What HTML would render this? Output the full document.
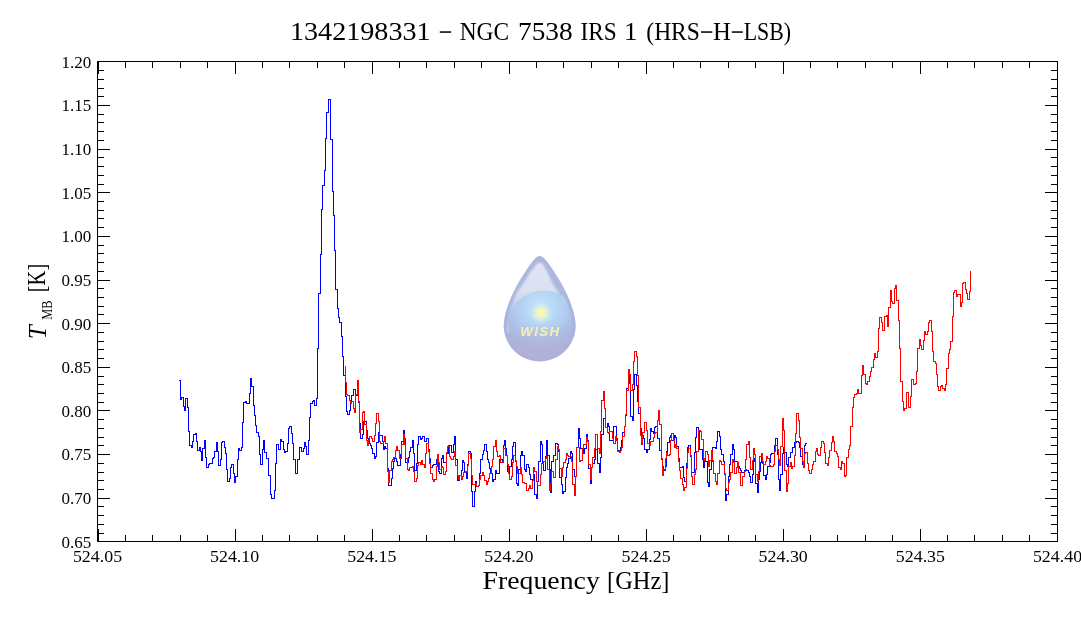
<!DOCTYPE html>
<html><head><meta charset="utf-8"><title>1342198331 - NGC 7538 IRS 1 (HRS-H-LSB)</title>
<style>
html,body{margin:0;padding:0;background:#fff;}
body{width:1081px;height:618px;overflow:hidden;font-family:"Liberation Serif",serif;}
svg{display:block;will-change:transform}
text{font-family:"Liberation Serif",serif;fill:#000}
.tk text{font-size:16.3px}
</style></head><body>
<svg width="1081" height="618" viewBox="0 0 1081 618">
<defs>
<linearGradient id="dg" x1="0" y1="256" x2="0" y2="362" gradientUnits="userSpaceOnUse">
<stop offset="0" stop-color="#adb5d9"/><stop offset="0.35" stop-color="#abb9e0"/><stop offset="0.7" stop-color="#aab4de"/><stop offset="1" stop-color="#b0aed6"/>
</linearGradient>
<radialGradient id="glow" cx="541" cy="308" r="47" gradientUnits="userSpaceOnUse">
<stop offset="0" stop-color="#c4e5fb" stop-opacity="1"/><stop offset="0.3" stop-color="#b8d9f7" stop-opacity="1"/><stop offset="0.55" stop-color="#b1cef1" stop-opacity="0.88"/><stop offset="0.8" stop-color="#adc1e9" stop-opacity="0.5"/><stop offset="1" stop-color="#a9b8e0" stop-opacity="0"/>
</radialGradient>
<linearGradient id="bot" x1="0" y1="322" x2="0" y2="362" gradientUnits="userSpaceOnUse">
<stop offset="0" stop-color="#b2b1d8" stop-opacity="0"/><stop offset="0.5" stop-color="#b2b1d8" stop-opacity="0.5"/><stop offset="1" stop-color="#b3b0d6" stop-opacity="0.9"/>
</linearGradient>
<linearGradient id="hl" x1="0" y1="262" x2="0" y2="310" gradientUnits="userSpaceOnUse">
<stop offset="0" stop-color="#e2e6f4" stop-opacity="1"/><stop offset="0.6" stop-color="#dce3f2" stop-opacity="0.95"/><stop offset="1" stop-color="#cfdaf0" stop-opacity="0.6"/>
</linearGradient>
<radialGradient id="star" cx="541" cy="313" r="12" gradientUnits="userSpaceOnUse">
<stop offset="0" stop-color="#ffffd8" stop-opacity="0.95"/><stop offset="0.5" stop-color="#eef6d8" stop-opacity="0.55"/><stop offset="1" stop-color="#d0ecf8" stop-opacity="0"/>
</radialGradient>
<filter id="bl" x="-20%" y="-20%" width="140%" height="140%"><feGaussianBlur stdDeviation="0.55"/></filter>
<filter id="bl2" x="-20%" y="-20%" width="140%" height="140%"><feGaussianBlur stdDeviation="0.8"/></filter>
<filter id="bl3" x="-20%" y="-20%" width="140%" height="140%"><feGaussianBlur stdDeviation="0.35"/></filter>
<clipPath id="dropclip"><path d="M539.70 255.90 L540.39 255.96 L541.08 256.15 L541.78 256.46 L542.50 256.90 L543.25 257.46 L544.02 258.15 L544.83 258.96 L545.68 259.90 L546.11 260.40 L546.66 261.07 L547.19 261.74 L547.71 262.42 L548.22 263.09 L548.71 263.76 L549.20 264.43 L549.68 265.11 L550.15 265.78 L550.62 266.45 L551.08 267.12 L551.54 267.80 L551.99 268.47 L552.44 269.14 L552.89 269.81 L553.34 270.49 L553.78 271.16 L554.22 271.83 L554.66 272.50 L555.10 273.18 L555.53 273.85 L555.96 274.52 L556.39 275.19 L556.82 275.87 L557.25 276.54 L557.68 277.21 L558.11 277.88 L558.53 278.56 L558.96 279.23 L559.38 279.90 L559.97 280.90 L560.62 282.04 L561.25 283.19 L561.87 284.33 L562.47 285.47 L563.08 286.62 L563.69 287.76 L564.29 288.91 L564.88 290.05 L565.46 291.19 L566.04 292.34 L566.59 293.48 L567.13 294.62 L567.66 295.77 L568.17 296.91 L568.66 298.05 L569.15 299.20 L569.61 300.34 L570.07 301.48 L570.50 302.63 L570.92 303.77 L571.32 304.92 L571.71 306.06 L572.09 307.20 L572.45 308.35 L572.80 309.49 L573.12 310.63 L573.45 311.78 L573.77 312.92 L574.08 314.06 L574.37 315.21 L574.62 316.35 L574.84 317.49 L575.01 318.64 L575.17 319.78 L575.32 320.93 L575.45 322.07 L575.56 323.21 L575.64 324.36 L575.70 325.50 L575.65 327.41 L575.50 329.32 L575.24 331.21 L574.89 333.09 L574.43 334.95 L573.88 336.78 L573.23 338.57 L572.48 340.33 L571.64 342.05 L570.72 343.73 L569.70 345.35 L568.60 346.91 L567.41 348.41 L566.15 349.85 L564.81 351.22 L563.41 352.52 L561.93 353.74 L560.39 354.88 L558.80 355.93 L557.14 356.90 L555.44 357.79 L553.70 358.58 L551.91 359.27 L550.09 359.87 L548.24 360.37 L546.37 360.78 L544.48 361.08 L542.57 361.29 L540.66 361.39 L538.74 361.39 L536.83 361.29 L534.92 361.08 L533.03 360.78 L531.16 360.37 L529.31 359.87 L527.49 359.27 L525.70 358.58 L523.96 357.79 L522.26 356.90 L520.60 355.93 L519.01 354.88 L517.47 353.74 L515.99 352.52 L514.59 351.22 L513.25 349.85 L511.99 348.41 L510.80 346.91 L509.70 345.35 L508.68 343.73 L507.76 342.05 L506.92 340.33 L506.17 338.57 L505.52 336.78 L504.97 334.95 L504.51 333.09 L504.16 331.21 L503.90 329.32 L503.75 327.41 L503.70 325.50 L503.76 324.36 L503.84 323.21 L503.95 322.07 L504.08 320.93 L504.23 319.78 L504.39 318.64 L504.56 317.49 L504.78 316.35 L505.03 315.21 L505.32 314.06 L505.63 312.92 L505.95 311.78 L506.28 310.63 L506.60 309.49 L506.95 308.35 L507.31 307.20 L507.69 306.06 L508.08 304.92 L508.48 303.77 L508.90 302.63 L509.33 301.48 L509.79 300.34 L510.25 299.20 L510.74 298.05 L511.23 296.91 L511.74 295.77 L512.27 294.62 L512.81 293.48 L513.36 292.34 L513.94 291.19 L514.52 290.05 L515.11 288.91 L515.71 287.76 L516.32 286.62 L516.93 285.47 L517.53 284.33 L518.15 283.19 L518.78 282.04 L519.43 280.90 L520.02 279.90 L520.44 279.23 L520.87 278.56 L521.29 277.88 L521.72 277.21 L522.15 276.54 L522.58 275.87 L523.01 275.19 L523.44 274.52 L523.87 273.85 L524.30 273.18 L524.74 272.50 L525.18 271.83 L525.62 271.16 L526.06 270.49 L526.51 269.81 L526.96 269.14 L527.41 268.47 L527.86 267.80 L528.32 267.12 L528.78 266.45 L529.25 265.78 L529.72 265.11 L530.20 264.43 L530.69 263.76 L531.18 263.09 L531.69 262.42 L532.21 261.74 L532.74 261.07 L533.29 260.40 L533.72 259.90 L534.57 258.96 L535.38 258.15 L536.15 257.46 L536.90 256.90 L537.62 256.46 L538.32 256.15 L539.01 255.96 L539.70 255.90Z"/></clipPath>
<clipPath id="bodyclip"><path transform="translate(540.6 326) scale(0.875 0.93) translate(-539.7 -326)" d="M539.70 255.90 L540.39 255.96 L541.08 256.15 L541.78 256.46 L542.50 256.90 L543.25 257.46 L544.02 258.15 L544.83 258.96 L545.68 259.90 L546.11 260.40 L546.66 261.07 L547.19 261.74 L547.71 262.42 L548.22 263.09 L548.71 263.76 L549.20 264.43 L549.68 265.11 L550.15 265.78 L550.62 266.45 L551.08 267.12 L551.54 267.80 L551.99 268.47 L552.44 269.14 L552.89 269.81 L553.34 270.49 L553.78 271.16 L554.22 271.83 L554.66 272.50 L555.10 273.18 L555.53 273.85 L555.96 274.52 L556.39 275.19 L556.82 275.87 L557.25 276.54 L557.68 277.21 L558.11 277.88 L558.53 278.56 L558.96 279.23 L559.38 279.90 L559.97 280.90 L560.62 282.04 L561.25 283.19 L561.87 284.33 L562.47 285.47 L563.08 286.62 L563.69 287.76 L564.29 288.91 L564.88 290.05 L565.46 291.19 L566.04 292.34 L566.59 293.48 L567.13 294.62 L567.66 295.77 L568.17 296.91 L568.66 298.05 L569.15 299.20 L569.61 300.34 L570.07 301.48 L570.50 302.63 L570.92 303.77 L571.32 304.92 L571.71 306.06 L572.09 307.20 L572.45 308.35 L572.80 309.49 L573.12 310.63 L573.45 311.78 L573.77 312.92 L574.08 314.06 L574.37 315.21 L574.62 316.35 L574.84 317.49 L575.01 318.64 L575.17 319.78 L575.32 320.93 L575.45 322.07 L575.56 323.21 L575.64 324.36 L575.70 325.50 L575.65 327.41 L575.50 329.32 L575.24 331.21 L574.89 333.09 L574.43 334.95 L573.88 336.78 L573.23 338.57 L572.48 340.33 L571.64 342.05 L570.72 343.73 L569.70 345.35 L568.60 346.91 L567.41 348.41 L566.15 349.85 L564.81 351.22 L563.41 352.52 L561.93 353.74 L560.39 354.88 L558.80 355.93 L557.14 356.90 L555.44 357.79 L553.70 358.58 L551.91 359.27 L550.09 359.87 L548.24 360.37 L546.37 360.78 L544.48 361.08 L542.57 361.29 L540.66 361.39 L538.74 361.39 L536.83 361.29 L534.92 361.08 L533.03 360.78 L531.16 360.37 L529.31 359.87 L527.49 359.27 L525.70 358.58 L523.96 357.79 L522.26 356.90 L520.60 355.93 L519.01 354.88 L517.47 353.74 L515.99 352.52 L514.59 351.22 L513.25 349.85 L511.99 348.41 L510.80 346.91 L509.70 345.35 L508.68 343.73 L507.76 342.05 L506.92 340.33 L506.17 338.57 L505.52 336.78 L504.97 334.95 L504.51 333.09 L504.16 331.21 L503.90 329.32 L503.75 327.41 L503.70 325.50 L503.76 324.36 L503.84 323.21 L503.95 322.07 L504.08 320.93 L504.23 319.78 L504.39 318.64 L504.56 317.49 L504.78 316.35 L505.03 315.21 L505.32 314.06 L505.63 312.92 L505.95 311.78 L506.28 310.63 L506.60 309.49 L506.95 308.35 L507.31 307.20 L507.69 306.06 L508.08 304.92 L508.48 303.77 L508.90 302.63 L509.33 301.48 L509.79 300.34 L510.25 299.20 L510.74 298.05 L511.23 296.91 L511.74 295.77 L512.27 294.62 L512.81 293.48 L513.36 292.34 L513.94 291.19 L514.52 290.05 L515.11 288.91 L515.71 287.76 L516.32 286.62 L516.93 285.47 L517.53 284.33 L518.15 283.19 L518.78 282.04 L519.43 280.90 L520.02 279.90 L520.44 279.23 L520.87 278.56 L521.29 277.88 L521.72 277.21 L522.15 276.54 L522.58 275.87 L523.01 275.19 L523.44 274.52 L523.87 273.85 L524.30 273.18 L524.74 272.50 L525.18 271.83 L525.62 271.16 L526.06 270.49 L526.51 269.81 L526.96 269.14 L527.41 268.47 L527.86 267.80 L528.32 267.12 L528.78 266.45 L529.25 265.78 L529.72 265.11 L530.20 264.43 L530.69 263.76 L531.18 263.09 L531.69 262.42 L532.21 261.74 L532.74 261.07 L533.29 260.40 L533.72 259.90 L534.57 258.96 L535.38 258.15 L536.15 257.46 L536.90 256.90 L537.62 256.46 L538.32 256.15 L539.01 255.96 L539.70 255.90Z"/></clipPath>
</defs>
<!-- title -->
<g font-size="25.5"><text x="290.0" y="40.3" textLength="140.6" lengthAdjust="spacingAndGlyphs">1342198331</text><text x="459.7" y="40.3" textLength="49.4" lengthAdjust="spacingAndGlyphs">NGC</text><text x="518.0" y="40.3" textLength="54.6" lengthAdjust="spacingAndGlyphs">7538</text><text x="580.6" y="40.3" textLength="36.2" lengthAdjust="spacingAndGlyphs">IRS</text><text x="624.0" y="40.3" textLength="13.4" lengthAdjust="spacingAndGlyphs">1</text><text x="646.3" y="40.3" textLength="53.6" lengthAdjust="spacingAndGlyphs">(HRS</text><text x="713.0" y="40.3" textLength="17.9" lengthAdjust="spacingAndGlyphs">H</text><text x="743.7" y="40.3" textLength="47.4" lengthAdjust="spacingAndGlyphs">LSB)</text></g><rect x="439.8" y="31.3" width="11.3" height="1.5" fill="#000"/><rect x="701.0" y="31.3" width="11.3" height="1.5" fill="#000"/><rect x="731.8" y="31.3" width="11.0" height="1.5" fill="#000"/>
<!-- logo -->
<g id="logo">
<path d="M539.70 255.90 L540.39 255.96 L541.08 256.15 L541.78 256.46 L542.50 256.90 L543.25 257.46 L544.02 258.15 L544.83 258.96 L545.68 259.90 L546.11 260.40 L546.66 261.07 L547.19 261.74 L547.71 262.42 L548.22 263.09 L548.71 263.76 L549.20 264.43 L549.68 265.11 L550.15 265.78 L550.62 266.45 L551.08 267.12 L551.54 267.80 L551.99 268.47 L552.44 269.14 L552.89 269.81 L553.34 270.49 L553.78 271.16 L554.22 271.83 L554.66 272.50 L555.10 273.18 L555.53 273.85 L555.96 274.52 L556.39 275.19 L556.82 275.87 L557.25 276.54 L557.68 277.21 L558.11 277.88 L558.53 278.56 L558.96 279.23 L559.38 279.90 L559.97 280.90 L560.62 282.04 L561.25 283.19 L561.87 284.33 L562.47 285.47 L563.08 286.62 L563.69 287.76 L564.29 288.91 L564.88 290.05 L565.46 291.19 L566.04 292.34 L566.59 293.48 L567.13 294.62 L567.66 295.77 L568.17 296.91 L568.66 298.05 L569.15 299.20 L569.61 300.34 L570.07 301.48 L570.50 302.63 L570.92 303.77 L571.32 304.92 L571.71 306.06 L572.09 307.20 L572.45 308.35 L572.80 309.49 L573.12 310.63 L573.45 311.78 L573.77 312.92 L574.08 314.06 L574.37 315.21 L574.62 316.35 L574.84 317.49 L575.01 318.64 L575.17 319.78 L575.32 320.93 L575.45 322.07 L575.56 323.21 L575.64 324.36 L575.70 325.50 L575.65 327.41 L575.50 329.32 L575.24 331.21 L574.89 333.09 L574.43 334.95 L573.88 336.78 L573.23 338.57 L572.48 340.33 L571.64 342.05 L570.72 343.73 L569.70 345.35 L568.60 346.91 L567.41 348.41 L566.15 349.85 L564.81 351.22 L563.41 352.52 L561.93 353.74 L560.39 354.88 L558.80 355.93 L557.14 356.90 L555.44 357.79 L553.70 358.58 L551.91 359.27 L550.09 359.87 L548.24 360.37 L546.37 360.78 L544.48 361.08 L542.57 361.29 L540.66 361.39 L538.74 361.39 L536.83 361.29 L534.92 361.08 L533.03 360.78 L531.16 360.37 L529.31 359.87 L527.49 359.27 L525.70 358.58 L523.96 357.79 L522.26 356.90 L520.60 355.93 L519.01 354.88 L517.47 353.74 L515.99 352.52 L514.59 351.22 L513.25 349.85 L511.99 348.41 L510.80 346.91 L509.70 345.35 L508.68 343.73 L507.76 342.05 L506.92 340.33 L506.17 338.57 L505.52 336.78 L504.97 334.95 L504.51 333.09 L504.16 331.21 L503.90 329.32 L503.75 327.41 L503.70 325.50 L503.76 324.36 L503.84 323.21 L503.95 322.07 L504.08 320.93 L504.23 319.78 L504.39 318.64 L504.56 317.49 L504.78 316.35 L505.03 315.21 L505.32 314.06 L505.63 312.92 L505.95 311.78 L506.28 310.63 L506.60 309.49 L506.95 308.35 L507.31 307.20 L507.69 306.06 L508.08 304.92 L508.48 303.77 L508.90 302.63 L509.33 301.48 L509.79 300.34 L510.25 299.20 L510.74 298.05 L511.23 296.91 L511.74 295.77 L512.27 294.62 L512.81 293.48 L513.36 292.34 L513.94 291.19 L514.52 290.05 L515.11 288.91 L515.71 287.76 L516.32 286.62 L516.93 285.47 L517.53 284.33 L518.15 283.19 L518.78 282.04 L519.43 280.90 L520.02 279.90 L520.44 279.23 L520.87 278.56 L521.29 277.88 L521.72 277.21 L522.15 276.54 L522.58 275.87 L523.01 275.19 L523.44 274.52 L523.87 273.85 L524.30 273.18 L524.74 272.50 L525.18 271.83 L525.62 271.16 L526.06 270.49 L526.51 269.81 L526.96 269.14 L527.41 268.47 L527.86 267.80 L528.32 267.12 L528.78 266.45 L529.25 265.78 L529.72 265.11 L530.20 264.43 L530.69 263.76 L531.18 263.09 L531.69 262.42 L532.21 261.74 L532.74 261.07 L533.29 260.40 L533.72 259.90 L534.57 258.96 L535.38 258.15 L536.15 257.46 L536.90 256.90 L537.62 256.46 L538.32 256.15 L539.01 255.96 L539.70 255.90Z" fill="url(#dg)" filter="url(#bl)"/>
<g clip-path="url(#dropclip)">
<path d="M539.60 262.60 L540.89 263.02 L541.69 263.43 L542.24 263.85 L542.66 264.26 L543.01 264.68 L543.31 265.09 L543.58 265.51 L543.83 265.92 L544.07 266.34 L544.31 266.75 L544.56 267.17 L544.81 267.58 L545.05 268.00 L545.63 269.00 L546.52 270.62 L547.37 272.23 L548.18 273.85 L548.94 275.46 L549.64 277.08 L550.34 278.69 L551.10 280.31 L551.97 281.92 L552.90 283.54 L553.88 285.15 L554.88 286.77 L555.88 288.38 L556.87 290.00 L557.81 291.62 L558.70 293.23 L559.72 294.85 L560.75 296.46 L561.58 298.08 L561.99 299.69 L562.00 301.31 L562.00 302.92 L562.00 304.54 L562.00 306.15 L562.00 307.77 L562.00 309.38 L562.00 311.00 L562.00 312.62 L562.00 314.23 L562.00 315.85 L562.00 317.46 L562.00 319.08 L562.00 320.69 L562.00 322.31 L562.00 323.92 L562.00 325.54 L562.00 327.15 L562.00 328.77 L562.00 330.38 L562.00 332.00 L507.00 332.00 L507.09 330.38 L507.22 328.77 L507.37 327.15 L507.55 325.54 L507.75 323.92 L507.96 322.31 L508.19 320.69 L508.47 319.08 L508.79 317.46 L509.13 315.85 L509.51 314.23 L509.91 312.62 L510.32 311.00 L510.75 309.38 L511.19 307.77 L511.65 306.15 L512.13 304.54 L512.64 302.92 L513.18 301.31 L513.76 299.69 L514.38 298.08 L515.05 296.46 L515.76 294.85 L516.60 293.23 L517.57 291.62 L518.64 290.00 L519.77 288.38 L520.95 286.77 L522.14 285.15 L523.31 283.54 L524.43 281.92 L525.47 280.31 L526.41 278.69 L527.29 277.08 L528.19 275.46 L529.20 273.85 L530.34 272.23 L531.57 270.62 L532.85 269.00 L533.64 268.00 L533.97 267.58 L534.29 267.17 L534.61 266.75 L534.91 266.34 L535.20 265.92 L535.50 265.51 L535.81 265.09 L536.15 264.68 L536.54 264.26 L536.97 263.85 L537.51 263.43 L538.31 263.02 L539.60 262.60Z" fill="url(#hl)" filter="url(#bl2)"/>
<g filter="url(#bl)"><g clip-path="url(#bodyclip)"><circle cx="543.9" cy="327.3" r="36.5" fill="url(#dg)"/><circle cx="543.9" cy="327.3" r="36.5" fill="url(#glow)"/><rect x="500" y="322" width="80" height="42" fill="url(#bot)"/></g></g>

</g>
<circle cx="541" cy="313" r="12" fill="url(#star)"/>
<path d="M541.0 303.4 L542.1 311.0 L549.3 308.2 L543.3 313.0 L549.3 317.8 L542.1 315.0 L541.0 322.6 L539.9 315.0 L532.7 317.8 L538.7 313.0 L532.7 308.2 L539.9 311.0Z" fill="#fbf8a2" filter="url(#bl3)"/>
<text x="520.2" y="335.7" font-size="12" style="font-family:'Liberation Sans',sans-serif;font-weight:bold;font-style:italic;fill:#f6f2aa;letter-spacing:1.3px" textLength="40.4" lengthAdjust="spacingAndGlyphs" filter="url(#bl3)">WISH</text>
</g>
<!-- data -->
<g fill="none" stroke-width="1" shape-rendering="crispEdges">
<path d="M179.0 380.5H180.5V399.5H181.5V397.5H183.5V406.5H184.5V410.5H185.5V398.5H187.5V407.5H188.5V431.5H189.5V445.5H191.5V447.5H192.5V441.5H193.5V434.5H195.5V433.5H196.5V441.5H197.5V450.5H199.5V447.5H200.5V451.5H201.5V460.5H202.5V448.5H204.5V440.5H205.5V457.5H206.5V467.5H208.5V464.5H209.5V463.5H212.5V458.5H213.5V457.5H214.5V451.5H216.5V442.5H217.5V451.5H218.5V465.5H220.5V459.5H221.5V442.5H222.5V441.5H224.5V447.5H225.5V453.5H226.5V469.5H227.5V481.5H229.5V478.5H230.5V467.5H231.5V464.5H233.5V473.5H234.5V482.5H235.5V476.5H237.5V459.5H238.5V448.5H239.5V450.5H241.5V447.5H242.5V422.5H243.5V402.5H245.5V401.5H246.5V403.5H249.5V393.5H250.5V378.5H251.5V386.5H253.5V405.5H254.5V415.5H255.5V425.5H256.5V432.5H258.5V436.5H259.5V454.5H260.5V464.5H262.5V449.5H263.5V440.5H264.5V452.5H266.5V458.5H268.5V475.5H270.5V494.5H271.5V498.5H274.5V490.5H275.5V463.5H276.5V444.5H278.5V449.5H280.5V441.5H280.5V439.5H281.5V441.5H283.5V449.5H284.5V452.5H285.5V451.5H287.5V443.5H288.5V428.5H289.5V426.5H291.5V433.5H292.5V443.5H293.5V459.5H295.5V473.5H297.5V459.5H299.5V447.5H301.5V448.5H301.5V451.5H303.5V448.5H304.5V442.5H305.5V446.5H306.5V454.5H308.5V440.5H309.5V417.5H310.5V403.5H312.5V401.5H313.5V400.5H314.5V405.5H316.5V398.5H317.5V348.5H318.5V293.5H320.5V254.5H321.5V209.5H322.5V185.5H324.5V170.5H325.5V138.5H326.5V112.5H328.5V99.5H330.5V139.5H332.5V191.5H333.5V215.5H334.5V250.5H335.5V289.5H337.5V308.5H338.5V317.5H339.5V322.5H341.5V336.5H342.5V356.5H343.5V375.5H345.5V396.5H346.5V411.5H347.5V414.5H349.5V410.5H350.5V403.5H351.5V395.5H353.5V389.5H354.5H355.5V395.5H358.5V402.5H359.5V423.5H360.5V438.5H362.5V434.5H363.5V421.5H366.5V430.5H367.5V438.5H368.5V439.5H369.5V443.5H370.5V445.5H371.5V448.5H372.5V453.5H374.5V458.5H375.5V456.5H376.5V442.5H378.5V432.5H379.5V435.5H382.5V441.5H383.5V449.5H384.5V446.5H385.5V448.5H387.5V468.5H388.5V485.5H391.5V478.5H392.5V468.5H393.5V461.5H394.5V458.5H396.5V461.5H397.5V465.5H400.5V454.5H401.5V441.5H403.5V430.5H404.5V438.5H405.5V462.5H408.5V457.5H409.5V451.5H410.5V447.5H412.5V440.5H413.5V453.5H414.5V470.5H416.5V463.5H417.5V444.5H418.5V436.5H420.5V439.5H421.5V438.5H422.5V436.5H424.5V441.5H426.5V438.5H428.5V449.5H429.5V458.5H430.5V467.5H432.5V465.5H433.5V464.5H436.5V459.5H438.5V471.5H439.5V473.5H441.5V458.5H442.5V455.5H443.5V462.5H446.5V453.5H448.5V445.5H451.5V452.5H453.5V444.5H454.5V436.5H455.5V459.5H457.5V480.5H459.5V475.5H461.5V470.5H462.5V460.5H463.5V462.5H464.5V472.5H466.5V478.5H467.5V464.5H468.5V451.5H470.5V453.5H471.5V491.5H472.5V506.5H474.5V491.5H475.5V481.5H476.5V486.5H478.5V485.5H479.5V473.5H480.5V459.5H482.5V454.5H483.5V450.5H484.5V444.5H486.5V451.5H487.5V459.5H488.5V462.5H489.5V468.5H490.5V473.5H492.5V481.5H493.5V479.5H495.5V470.5H496.5V473.5H499.5V459.5H502.5V461.5H503.5V445.5H504.5V440.5H505.5V448.5H506.5V455.5H507.5V471.5H508.5V473.5H509.5V466.5H511.5V459.5H512.5V446.5H513.5V442.5H515.5V461.5H516.5V483.5H517.5V485.5H518.5V469.5H520.5V455.5H521.5V451.5H522.5V455.5H524.5V469.5H525.5V471.5H526.5V464.5H528.5V467.5H529.5V474.5H530.5V479.5H533.5V474.5H534.5V494.5H536.5V498.5H537.5V481.5H538.5V461.5H540.5V441.5H541.5V444.5H542.5V463.5H543.5V470.5H545.5V456.5H546.5V440.5H547.5V455.5H549.5V469.5H550.5V492.5H551.5V461.5H553.5V455.5H555.5V443.5H557.5V444.5H558.5V451.5H559.5V477.5H561.5V484.5H562.5V493.5H563.5V491.5H565.5V477.5H566.5V467.5H567.5V463.5H568.5V458.5H570.5V451.5H571.5V453.5H572.5V469.5H574.5V476.5H576.5V447.5H578.5V428.5H579.5V438.5H580.5V448.5H583.5V453.5H584.5V448.5H586.5V434.5H587.5V440.5H588.5V468.5H590.5V483.5H591.5V467.5H592.5V463.5H594.5V459.5H595.5V449.5H597.5V463.5H599.5V472.5H600.5V457.5H601.5V434.5H603.5V418.5H605.5V427.5H607.5V423.5H608.5V426.5H609.5V440.5H613.5V426.5H616.5V427.5H616.5V438.5H617.5V450.5H620.5V447.5H621.5V440.5H622.5V432.5H624.5V426.5H625.5V415.5H626.5V388.5H628.5V374.5H629.5V383.5H630.5V416.5H632.5V420.5H633.5V389.5H634.5V374.5H636.5V385.5H637.5V401.5H638.5V413.5H640.5V426.5H640.5V428.5H641.5V435.5H643.5V438.5H644.5V449.5H646.5V452.5H647.5V449.5H649.5V439.5H650.5V428.5H651.5V431.5H653.5V433.5H654.5V427.5H655.5V426.5H657.5V438.5H659.5V450.5H661.5V459.5H662.5V466.5H663.5V470.5H665.5V466.5H666.5V451.5H667.5V442.5H669.5V437.5H670.5V435.5H671.5V440.5H674.5V435.5H675.5V437.5H676.5V446.5H678.5V458.5H679.5V467.5H682.5V466.5H683.5V477.5H684.5V481.5H686.5V463.5H687.5V447.5H688.5V445.5H690.5V456.5H691.5V472.5H694.5V452.5H695.5V437.5H696.5V427.5H698.5V430.5H699.5V449.5H702.5V459.5H703.5V467.5H704.5V461.5H707.5V482.5H708.5V486.5H709.5V469.5H711.5V461.5H712.5V447.5H715.5V448.5H716.5V441.5H717.5V431.5H719.5V436.5H720.5V449.5H721.5V454.5H723.5V461.5H724.5V474.5H725.5V500.5H726.5V494.5H728.5V476.5H729.5V464.5H730.5V454.5H732.5V444.5H733.5V449.5H734.5V461.5H737.5V466.5H739.5V468.5H740.5V470.5H741.5V472.5H744.5V470.5H746.5V468.5H746.5V470.5H748.5V472.5H749.5V476.5H750.5V482.5H752.5V474.5H753.5V461.5H754.5V458.5H755.5V483.5H757.5V492.5H758.5V479.5H759.5V471.5H760.5V462.5H761.5V456.5H762.5V463.5H763.5V475.5H765.5V479.5H766.5V474.5H767.5V466.5H769.5V462.5H770.5V454.5H771.5V453.5H774.5V445.5H775.5V438.5H777.5V454.5H778.5V479.5H779.5V490.5H780.5V474.5H782.5V453.5H783.5V447.5H784.5V452.5H786.5V464.5H787.5V466.5H788.5V457.5H790.5V452.5H792.5V447.5H794.5V442.5H796.5V441.5H798.5V442.5H799.5V447.5H800.5V456.5H802.5V464.5H804.5V445.5H805.5V443.5H806.5H806.5" stroke="#0000ff"/>
<path d="M345.5 365.5H345.5V382.5H346.5V394.5H347.5V395.5H349.5V400.5H350.5V403.5H351.5V401.5H353.5V408.5H354.5V412.5H355.5V394.5H357.5V380.5H358.5V401.5H359.5V432.5H360.5V429.5H362.5V412.5H363.5V411.5H364.5V424.5H366.5V440.5H367.5V445.5H368.5V440.5H369.5V436.5H371.5V438.5H372.5V441.5H374.5V435.5H375.5V423.5H376.5V413.5H378.5V421.5H379.5V441.5H380.5V443.5H383.5V441.5H384.5V436.5H385.5V443.5H387.5V471.5H388.5V482.5H389.5V470.5H391.5V461.5H392.5V459.5H393.5V457.5H395.5V450.5H396.5V446.5H397.5V450.5H399.5V458.5H401.5V444.5H403.5V434.5H404.5V444.5H405.5V458.5H407.5V469.5H408.5V470.5H409.5V467.5H412.5V466.5H413.5V471.5H414.5V481.5H416.5V478.5H417.5V465.5H418.5V462.5H420.5V464.5H421.5V460.5H422.5V464.5H424.5V467.5H425.5V453.5H426.5V443.5H428.5V451.5H429.5V463.5H430.5V473.5H432.5V479.5H433.5V481.5H434.5V479.5H436.5V466.5H437.5V454.5H438.5V462.5H439.5V469.5H441.5V466.5H442.5V467.5H443.5V474.5H445.5V471.5H446.5V452.5H447.5V446.5H449.5V456.5H450.5V458.5H451.5V459.5H453.5V456.5H454.5V451.5H455.5V465.5H457.5V475.5H458.5V479.5H459.5V475.5H461.5V479.5H462.5V476.5H463.5V472.5H465.5V471.5H467.5V465.5H468.5V453.5H470.5V458.5H471.5V475.5H472.5V484.5H475.5V483.5H476.5V486.5H478.5V485.5H479.5V479.5H480.5V475.5H482.5V472.5H483.5V475.5H484.5V480.5H486.5V484.5H487.5V481.5H488.5V478.5H489.5V473.5H491.5V466.5H492.5V459.5H493.5V446.5H495.5V440.5H496.5V451.5H497.5V456.5H499.5V455.5H500.5V462.5H503.5V448.5H505.5V455.5H507.5V464.5H508.5V473.5H509.5V479.5H511.5V476.5H512.5V462.5H513.5V455.5H515.5V460.5H516.5V466.5H517.5V473.5H520.5V467.5H521.5V474.5H522.5V482.5H524.5V483.5H526.5V490.5H528.5V488.5H529.5V485.5H530.5V488.5H532.5V480.5H533.5V467.5H534.5V471.5H536.5V481.5H537.5V485.5H540.5V474.5H541.5V463.5H543.5V461.5H545.5V458.5H546.5V456.5H547.5V469.5H549.5V490.5H550.5V484.5H551.5V471.5H553.5V477.5H555.5V459.5H557.5V446.5H558.5V449.5H559.5V468.5H561.5V476.5H562.5V467.5H563.5V462.5H565.5V459.5H566.5V453.5H567.5V455.5H568.5V456.5H571.5V461.5H572.5V484.5H574.5V495.5H575.5V476.5H576.5V447.5H579.5V461.5H580.5V460.5H582.5V448.5H583.5V444.5H586.5V437.5H587.5V441.5H588.5V464.5H590.5V479.5H591.5V467.5H592.5V457.5H594.5V448.5H595.5V434.5H597.5V448.5H599.5V453.5H600.5V431.5H601.5V400.5H603.5V391.5H604.5V408.5H605.5V427.5H607.5V432.5H608.5V433.5H609.5V431.5H612.5V438.5H613.5V443.5H615.5V436.5H616.5V440.5H617.5V451.5H619.5V452.5H620.5V450.5H621.5V447.5H622.5V436.5H624.5V426.5H625.5V414.5H626.5V390.5H628.5V369.5H629.5V374.5H630.5V390.5H632.5V384.5H633.5V361.5H634.5V351.5H636.5V356.5H637.5V375.5H638.5V407.5H640.5V435.5H641.5V444.5H642.5V432.5H644.5V422.5H646.5V423.5H646.5V430.5H647.5V443.5H649.5V445.5H650.5V441.5H653.5V437.5H654.5V433.5H655.5V432.5H657.5V420.5H658.5V410.5H659.5V424.5H661.5V458.5H662.5V475.5H663.5V469.5H665.5V458.5H666.5V452.5H667.5V455.5H669.5V454.5H670.5V440.5H671.5V433.5H673.5V440.5H674.5V447.5H675.5V444.5H676.5V448.5H678.5V461.5H679.5V470.5H680.5V478.5H682.5V484.5H683.5V490.5H684.5V487.5H686.5V468.5H687.5V452.5H688.5V448.5H690.5V455.5H691.5V476.5H692.5V484.5H694.5V474.5H695.5V469.5H696.5V451.5H698.5V430.5H700.5V431.5H701.5V439.5H703.5V458.5H704.5V460.5H705.5V451.5H707.5V454.5H708.5V466.5H709.5V460.5H711.5V450.5H712.5V460.5H713.5V473.5H715.5V481.5H716.5V484.5H717.5V473.5H719.5V460.5H720.5V461.5H721.5V464.5H724.5V473.5H725.5V488.5H726.5V490.5H728.5V482.5H729.5V479.5H730.5V472.5H732.5V459.5H733.5V462.5H734.5V473.5H736.5V467.5H737.5V462.5H738.5V472.5H740.5V485.5H742.5V484.5H742.5V476.5H744.5V471.5H745.5V459.5H746.5V444.5H748.5V441.5H749.5V457.5H750.5V469.5H752.5V460.5H753.5V448.5H754.5V454.5H755.5V474.5H757.5V481.5H758.5V471.5H759.5V456.5H761.5V453.5H762.5V461.5H763.5V464.5H765.5V461.5H766.5V456.5H767.5V458.5H769.5V465.5H770.5V466.5H773.5V464.5H774.5V451.5H775.5V445.5H777.5V449.5H778.5V459.5H779.5V465.5H780.5V446.5H782.5V418.5H783.5V430.5H784.5V470.5H786.5V483.5H786.5V491.5H787.5V483.5H788.5V466.5H790.5V462.5H791.5V468.5H792.5V466.5H794.5V455.5H795.5V433.5H796.5V413.5H798.5V420.5H799.5V437.5H800.5V448.5H802.5V461.5H803.5V467.5H804.5V453.5H805.5V452.5H807.5V463.5H808.5V470.5H809.5V473.5H811.5V469.5H812.5V464.5H813.5V461.5H815.5V451.5H816.5V448.5H817.5V454.5H818.5V455.5H820.5V447.5H821.5V441.5H823.5V443.5H824.5V452.5H825.5V463.5H827.5V465.5H828.5V457.5H829.5V450.5H829.5H831.5V442.5H832.5V436.5H833.5V441.5H834.5V451.5H836.5V453.5H837.5V456.5H838.5V467.5H840.5V469.5H841.5V461.5H842.5V463.5H844.5V476.5H845.5V475.5H846.5V457.5H848.5V449.5H849.5V445.5H850.5V426.5H852.5V407.5H852.5H853.5V397.5H854.5V394.5H856.5V393.5H857.5V389.5H858.5V393.5H861.5V375.5H862.5V365.5H863.5V374.5H865.5V383.5H866.5V384.5H867.5V381.5H869.5V376.5H870.5V371.5H871.5V367.5H873.5V359.5H874.5V353.5H875.5V357.5H877.5V351.5H878.5V328.5H879.5V317.5H881.5V322.5H882.5V330.5H884.5V316.5H886.5V315.5H887.5V326.5H888.5V307.5H890.5V290.5H891.5V301.5H892.5V303.5H894.5V288.5H895.5V285.5H896.5V300.5H898.5V320.5H899.5V348.5H900.5V381.5H902.5V401.5H903.5V410.5H904.5V408.5H906.5V392.5H908.5V407.5H910.5V396.5H911.5V379.5H913.5V384.5H915.5V383.5H916.5V371.5H917.5V348.5H919.5V339.5H920.5V345.5H921.5V349.5H923.5V340.5H924.5V331.5H925.5V334.5H927.5V331.5H928.5V322.5H929.5V320.5H931.5V331.5H932.5V351.5H933.5V361.5H935.5V363.5H936.5V374.5H937.5V386.5H938.5V390.5H940.5V386.5H941.5V385.5H942.5V388.5H944.5V390.5H945.5V384.5H946.5V368.5H948.5V353.5H949.5V349.5H950.5V341.5H952.5V316.5H953.5V292.5H954.5V290.5H956.5V296.5H957.5V294.5H960.5V306.5H961.5V302.5H962.5V283.5H963.5V282.5H965.5V289.5H966.5V293.5H967.5V299.5H969.5V291.5H970.5V270.5H970.5" stroke="#ff0000"/>
</g>
<!-- axes -->
<g fill="none" stroke="#000" stroke-width="1" shape-rendering="crispEdges">
<rect x="97.5" y="61.5" width="960.0" height="480.0"/>
<path d="M98.5 61.5v12M98.5 541.5v-13M125.5 61.5v6M125.5 541.5v-7M152.5 61.5v6M152.5 541.5v-7M180.5 61.5v6M180.5 541.5v-7M207.5 61.5v6M207.5 541.5v-7M235.5 61.5v12M235.5 541.5v-13M262.5 61.5v6M262.5 541.5v-7M289.5 61.5v6M289.5 541.5v-7M317.5 61.5v6M317.5 541.5v-7M344.5 61.5v6M344.5 541.5v-7M372.5 61.5v12M372.5 541.5v-13M399.5 61.5v6M399.5 541.5v-7M426.5 61.5v6M426.5 541.5v-7M454.5 61.5v6M454.5 541.5v-7M481.5 61.5v6M481.5 541.5v-7M509.5 61.5v12M509.5 541.5v-13M536.5 61.5v6M536.5 541.5v-7M563.5 61.5v6M563.5 541.5v-7M591.5 61.5v6M591.5 541.5v-7M618.5 61.5v6M618.5 541.5v-7M646.5 61.5v12M646.5 541.5v-13M673.5 61.5v6M673.5 541.5v-7M700.5 61.5v6M700.5 541.5v-7M728.5 61.5v6M728.5 541.5v-7M755.5 61.5v6M755.5 541.5v-7M783.5 61.5v12M783.5 541.5v-13M810.5 61.5v6M810.5 541.5v-7M837.5 61.5v6M837.5 541.5v-7M865.5 61.5v6M865.5 541.5v-7M892.5 61.5v6M892.5 541.5v-7M920.5 61.5v12M920.5 541.5v-13M947.5 61.5v6M947.5 541.5v-7M974.5 61.5v6M974.5 541.5v-7M1002.5 61.5v6M1002.5 541.5v-7M1029.5 61.5v6M1029.5 541.5v-7M1057.5 61.5v12M1057.5 541.5v-13M97.5 61.5h12M1057.5 61.5h-13M97.5 70.5h6M1057.5 70.5h-7M97.5 79.5h6M1057.5 79.5h-7M97.5 88.5h6M1057.5 88.5h-7M97.5 96.5h6M1057.5 96.5h-7M97.5 105.5h12M1057.5 105.5h-13M97.5 114.5h6M1057.5 114.5h-7M97.5 122.5h6M1057.5 122.5h-7M97.5 131.5h6M1057.5 131.5h-7M97.5 140.5h6M1057.5 140.5h-7M97.5 149.5h12M1057.5 149.5h-13M97.5 157.5h6M1057.5 157.5h-7M97.5 166.5h6M1057.5 166.5h-7M97.5 175.5h6M1057.5 175.5h-7M97.5 184.5h6M1057.5 184.5h-7M97.5 192.5h12M1057.5 192.5h-13M97.5 201.5h6M1057.5 201.5h-7M97.5 210.5h6M1057.5 210.5h-7M97.5 218.5h6M1057.5 218.5h-7M97.5 227.5h6M1057.5 227.5h-7M97.5 236.5h12M1057.5 236.5h-13M97.5 245.5h6M1057.5 245.5h-7M97.5 253.5h6M1057.5 253.5h-7M97.5 262.5h6M1057.5 262.5h-7M97.5 271.5h6M1057.5 271.5h-7M97.5 280.5h12M1057.5 280.5h-13M97.5 288.5h6M1057.5 288.5h-7M97.5 297.5h6M1057.5 297.5h-7M97.5 306.5h6M1057.5 306.5h-7M97.5 314.5h6M1057.5 314.5h-7M97.5 323.5h12M1057.5 323.5h-13M97.5 332.5h6M1057.5 332.5h-7M97.5 341.5h6M1057.5 341.5h-7M97.5 349.5h6M1057.5 349.5h-7M97.5 358.5h6M1057.5 358.5h-7M97.5 367.5h12M1057.5 367.5h-13M97.5 376.5h6M1057.5 376.5h-7M97.5 384.5h6M1057.5 384.5h-7M97.5 393.5h6M1057.5 393.5h-7M97.5 402.5h6M1057.5 402.5h-7M97.5 410.5h12M1057.5 410.5h-13M97.5 419.5h6M1057.5 419.5h-7M97.5 428.5h6M1057.5 428.5h-7M97.5 437.5h6M1057.5 437.5h-7M97.5 445.5h6M1057.5 445.5h-7M97.5 454.5h12M1057.5 454.5h-13M97.5 463.5h6M1057.5 463.5h-7M97.5 472.5h6M1057.5 472.5h-7M97.5 480.5h6M1057.5 480.5h-7M97.5 489.5h6M1057.5 489.5h-7M97.5 498.5h12M1057.5 498.5h-13M97.5 506.5h6M1057.5 506.5h-7M97.5 515.5h6M1057.5 515.5h-7M97.5 524.5h6M1057.5 524.5h-7M97.5 533.5h6M1057.5 533.5h-7M97.5 541.5h12M1057.5 541.5h-13"/>
</g>
<g class="tk">
<text x="97.5" y="562.2" text-anchor="middle" textLength="49.2" lengthAdjust="spacingAndGlyphs">524.05</text><text x="234.6" y="562.2" text-anchor="middle" textLength="49.2" lengthAdjust="spacingAndGlyphs">524.10</text><text x="371.8" y="562.2" text-anchor="middle" textLength="49.2" lengthAdjust="spacingAndGlyphs">524.15</text><text x="508.9" y="562.2" text-anchor="middle" textLength="49.2" lengthAdjust="spacingAndGlyphs">524.20</text><text x="646.1" y="562.2" text-anchor="middle" textLength="49.2" lengthAdjust="spacingAndGlyphs">524.25</text><text x="783.2" y="562.2" text-anchor="middle" textLength="49.2" lengthAdjust="spacingAndGlyphs">524.30</text><text x="920.4" y="562.2" text-anchor="middle" textLength="49.2" lengthAdjust="spacingAndGlyphs">524.35</text><text x="1057.5" y="562.2" text-anchor="middle" textLength="49.2" lengthAdjust="spacingAndGlyphs">524.40</text>
<text x="91.3" y="67.7" text-anchor="end" textLength="29.8" lengthAdjust="spacingAndGlyphs">1.20</text><text x="91.3" y="111.3" text-anchor="end" textLength="29.8" lengthAdjust="spacingAndGlyphs">1.15</text><text x="91.3" y="155.0" text-anchor="end" textLength="29.8" lengthAdjust="spacingAndGlyphs">1.10</text><text x="91.3" y="198.6" text-anchor="end" textLength="29.8" lengthAdjust="spacingAndGlyphs">1.05</text><text x="91.3" y="242.2" text-anchor="end" textLength="29.8" lengthAdjust="spacingAndGlyphs">1.00</text><text x="91.3" y="285.9" text-anchor="end" textLength="29.8" lengthAdjust="spacingAndGlyphs">0.95</text><text x="91.3" y="329.5" text-anchor="end" textLength="29.8" lengthAdjust="spacingAndGlyphs">0.90</text><text x="91.3" y="373.2" text-anchor="end" textLength="29.8" lengthAdjust="spacingAndGlyphs">0.85</text><text x="91.3" y="416.8" text-anchor="end" textLength="29.8" lengthAdjust="spacingAndGlyphs">0.80</text><text x="91.3" y="460.4" text-anchor="end" textLength="29.8" lengthAdjust="spacingAndGlyphs">0.75</text><text x="91.3" y="504.1" text-anchor="end" textLength="29.8" lengthAdjust="spacingAndGlyphs">0.70</text><text x="91.3" y="547.7" text-anchor="end" textLength="29.8" lengthAdjust="spacingAndGlyphs">0.65</text>
</g>
<g font-size="25"><text x="482.6" y="588.6" textLength="117.2" lengthAdjust="spacingAndGlyphs">Frequency</text><text x="607" y="588.6" textLength="62.5" lengthAdjust="spacingAndGlyphs">[GHz]</text></g>
<g transform="translate(45.8 339.2) rotate(-90)">
<text x="0" y="0" font-size="25" font-style="italic" textLength="14" lengthAdjust="spacingAndGlyphs">T</text>
<text x="19.4" y="6.2" font-size="14.5" textLength="19.2" lengthAdjust="spacingAndGlyphs">MB</text>
<text x="47.0" y="-1" font-size="26" textLength="28.4" lengthAdjust="spacingAndGlyphs">[K]</text>
</g>
</svg>
</body></html>
